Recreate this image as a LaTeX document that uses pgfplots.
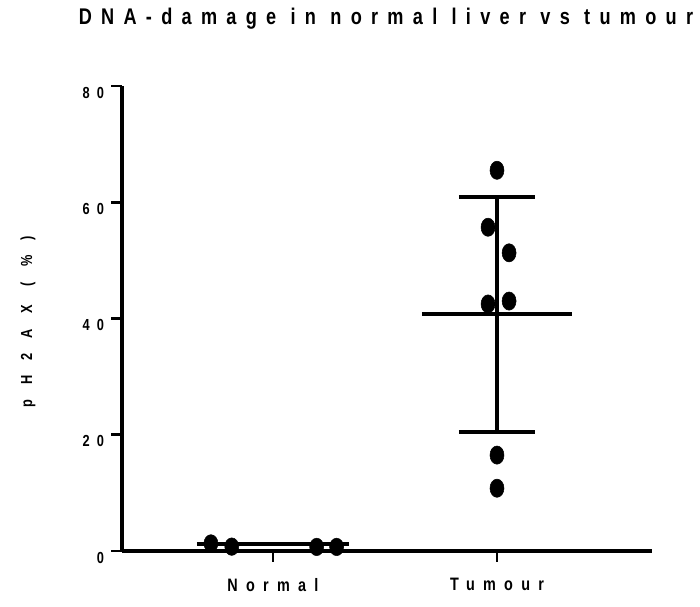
\documentclass[border=0pt]{standalone}
\usepackage{fontspec}
\setmainfont{Liberation Sans}
\newfontfamily\titlefont[FakeStretch=0.8,LetterSpace=41]{Liberation Sans}
\newfontfamily\catfont[FakeStretch=0.8,LetterSpace=46]{Liberation Sans}
\newfontfamily\tickfont[FakeStretch=0.8,LetterSpace=45]{Liberation Sans}
\newfontfamily\labfont[FakeStretch=0.8,LetterSpace=95]{Liberation Sans}
\usepackage{pgfplots}
\pgfplotsset{compat=1.18}
\usetikzlibrary{calc}

% 1 px of the reference = 0.75pt
\begin{document}
\begin{tikzpicture}
\begin{axis}[
    scale only axis,
    width=397.5pt, height=348.75pt,
    xmin=0.326, xmax=2.692,
    ymin=0, ymax=80,
    axis lines*=left,
    x axis line style={line width=3pt,-},
    y axis line style={line width=2.3pt,-},
    tick align=outside,
    major tick length=8pt,
    tick style={line width=2.2pt, black},
    xtick={1,2},
    xticklabels={Normal,Tumour},
    ytick={0,20,40,60,80},
    /pgf/number format/assume math mode=true,
    yticklabel style={font=\fontsize{12}{14}\tickfont\bfseries, yshift=-5pt, xshift=-2pt},
    xticklabel style={font=\fontsize{13.5}{15}\catfont\bfseries, yshift=-9pt},
    clip=false,
]
\coordinate (o) at (rel axis cs:0,0);

% Normal
\addplot[only marks, mark=*, mark size=5.25pt, mark options={yscale=1.25, fill=black}]
coordinates {(0.723,1.3)(0.816,0.75)(1.195,0.7)(1.284,0.7)};
% Tumour
\addplot[only marks, mark=*, mark size=5.25pt, mark options={yscale=1.3, fill=black}]
coordinates {(2.0,65.5)(1.96,55.7)(2.054,51.3)(1.96,42.5)(2.054,43.0)(2.0,16.5)(2.0,10.8)};

% mean lines
\addplot[line width=3pt, black] coordinates {(0.66,1.2)(1.34,1.2)};
\addplot[line width=3pt, black] coordinates {(1.665,40.8)(2.335,40.8)};
% SD
\addplot[line width=2.3pt, black] coordinates {(2,20.5)(2,60.9)};
\addplot[line width=3pt, black] coordinates {(1.83,60.9)(2.17,60.9)};
\addplot[line width=3pt, black] coordinates {(1.83,20.5)(2.17,20.5)};
\end{axis}

\node[anchor=base, font=\fontsize{17}{19}\titlefont\bfseries]
  at ($(o)+(198pt,394.5pt)$) {DNA-damage in normal liver vs tumour};
\node[rotate=90, font=\fontsize{12}{14}\labfont\bfseries]
  at ($(o)+(-70.5pt,171.75pt)$) {pH2AX (\%)};

\pgfresetboundingbox
\path[use as bounding box] ($(o)+(-91.5pt,-42pt)$) rectangle ($(o)+(433.5pt,413.25pt)$);
\end{tikzpicture}
\end{document}
